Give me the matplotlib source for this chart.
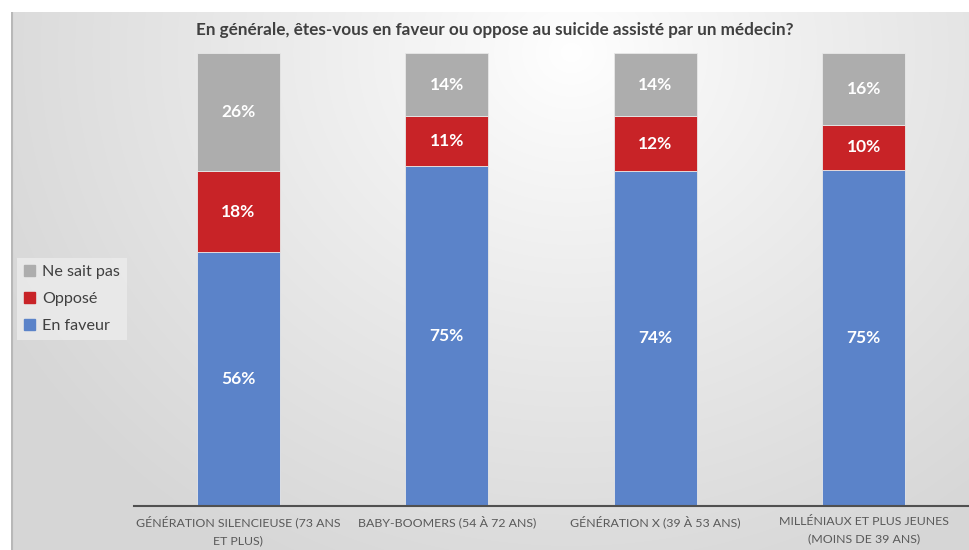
import numpy as np
import matplotlib
matplotlib.use("Agg")
import matplotlib.pyplot as plt
from matplotlib.patches import Patch

categories = ["GÉNÉRATION SILENCIEUSE (73 ANS\nET PLUS)",
              "BABY-BOOMERS (54 À 72 ANS)",
              "GÉNÉRATION X (39 À 53 ANS)",
              "MILLÉNIAUX ET PLUS JEUNES\n(MOINS DE 39 ANS)"]
en_faveur = [56, 75, 74, 75]
oppose = [18, 11, 12, 10]
ne_sait_pas = [26, 14, 14, 16]
title = "En générale, êtes-vous en faveur ou oppose au suicide assisté par un médecin?"

plt.rcParams['font.family'] = ['Lato', 'DejaVu Sans']

W, H = 969, 550
fig = plt.figure(figsize=(W / 100, H / 100), dpi=100)
fig.patch.set_facecolor('white')

# background panel with radial gradient
bg = fig.add_axes([11 / W, 0, (W - 11) / W, (H - 12) / H])
bg.set_axis_off()
yy, xx = np.mgrid[0:538, 0:958]
cx, cy = 560, 40
d = np.sqrt(((xx - cx) / 1.0) ** 2 + ((yy - cy) / 0.9) ** 2)
t = np.clip(d / 650, 0, 1)
val = 1.0 - 0.16 * t ** 0.9
img = np.dstack([val, val, val])
bg.imshow(img, aspect='auto', extent=[0, 1, 0, 1], origin='upper')
bg.set_xlim(0, 1)
bg.set_ylim(0, 1)
bg.axvline(0.0015, color='#b8b8b8', lw=1.5)

ax = fig.add_axes([134 / W, 44 / H, 834 / W, 453 / H])
ax.set_facecolor('none')

fav = np.array(en_faveur, float)
opp = np.array(oppose, float)
nsp = np.array(ne_sait_pas, float)
tot = fav + opp + nsp
fav_p = fav / tot * 100
opp_p = opp / tot * 100
nsp_p = nsp / tot * 100

x = np.arange(len(categories))
bw = 0.4
c_fav, c_opp, c_nsp = '#5b83c9', '#c82327', '#adadad'
b1 = ax.bar(x, fav_p, bw, color=c_fav, edgecolor='#e8e8e8', linewidth=0.6)
b2 = ax.bar(x, opp_p, bw, bottom=fav_p, color=c_opp, edgecolor='#e8e8e8', linewidth=0.6)
b3 = ax.bar(x, nsp_p, bw, bottom=fav_p + opp_p, color=c_nsp, edgecolor='#e8e8e8', linewidth=0.6)

for bars, raw, pct, base in [(b1, fav, fav_p, np.zeros(4)), (b2, opp, opp_p, fav_p),
                             (b3, nsp, nsp_p, fav_p + opp_p)]:
    for xi, r, p, b in zip(x, raw, pct, base):
        ax.text(xi, b + p / 2, f"{int(r)}%", ha='center', va='center',
                color='white', fontsize=12.5, fontweight='bold')

ax.set_xlim(-0.5, 3.5)
ax.set_ylim(0, 100)
ax.set_yticks([])
for s in ['top', 'right', 'left']:
    ax.spines[s].set_visible(False)
ax.spines['bottom'].set_color('#505050')
ax.spines['bottom'].set_linewidth(1.5)
ax.set_xticks(x)
ax.set_xticklabels(categories, fontsize=8.9, color='#595959', linespacing=1.75)
ax.tick_params(axis='x', length=0, pad=7)

fig.text(495 / W, 1 - 30 / H, title, ha='center', va='center', fontsize=12.3,
         fontweight='bold', color='#404040')

handles = [Patch(color=c_nsp, label='Ne sait pas'),
           Patch(color=c_opp, label='Opposé'),
           Patch(color=c_fav, label='En faveur')]
leg = fig.legend(handles=handles, loc='center left', bbox_to_anchor=(17 / W, 1 - 299 / H),
                 borderaxespad=0, frameon=True, fontsize=11.6, handlelength=0.65,
                 handleheight=0.65, handletextpad=0.45, labelspacing=0.8, borderpad=0.45,
                 fancybox=False, labelcolor='#404040')
leg.get_frame().set_facecolor('#ececec')
leg.get_frame().set_edgecolor('none')
leg.get_frame().set_alpha(0.8)

fig.savefig('out.png', dpi=100)
